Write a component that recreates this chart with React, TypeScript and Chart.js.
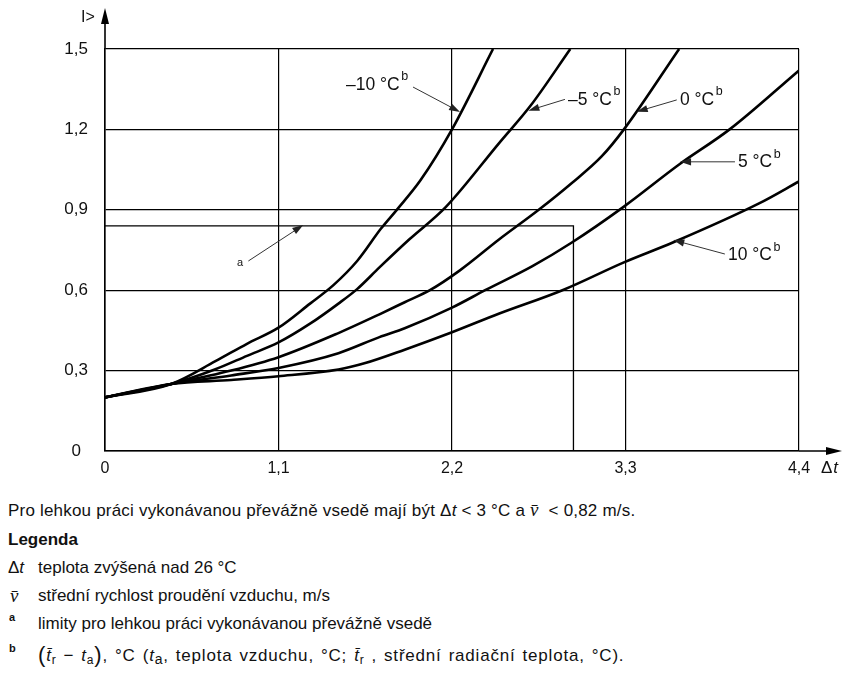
import React, { useEffect, useRef } from "react";
import { Chart, registerables } from "chart.js";

Chart.register(...registerables);

// ---- data ----
const xTickValues = [0, 1.1, 2.2, 3.3, 4.4];
const yTickValues = [0, 0.3, 0.6, 0.9, 1.2, 1.5];

const seriesLabels = ["–10 °C", "–5 °C", "0 °C", "5 °C", "10 °C"];

const dtM10 = [0, 0.42, 0.7, 0.9, 1.1, 1.3, 1.45, 1.6, 1.75, 1.85, 2.0, 2.2, 2.46];
const vM10 = [0.2, 0.25, 0.335, 0.4, 0.46, 0.55, 0.62, 0.71, 0.83, 0.9, 1.01, 1.2, 1.5];

const dtM5 = [0, 0.42, 0.7, 0.9, 1.1, 1.3, 1.48, 1.6, 1.74, 1.93, 2.16, 2.5, 2.7, 2.95];
const vM5 = [0.2, 0.25, 0.305, 0.355, 0.405, 0.475, 0.55, 0.605, 0.685, 0.79, 0.91, 1.15, 1.29, 1.5];

const dt0 = [0, 0.42, 0.8, 1.1, 1.48, 1.74, 1.9, 2.06, 2.25, 2.5, 2.75, 2.96, 3.15, 3.29, 3.64];
const v0 = [0.2, 0.25, 0.3, 0.35, 0.44, 0.51, 0.555, 0.6, 0.674, 0.79, 0.9, 1.0, 1.1, 1.2, 1.5];

const dt5 = [0, 0.42, 0.8, 1.1, 1.48, 1.74, 1.9, 2.2, 2.41, 2.71, 2.96, 3.29, 3.64, 3.96, 4.4];
const v5 = [0.2, 0.25, 0.282, 0.31, 0.365, 0.425, 0.458, 0.535, 0.6, 0.69, 0.778, 0.912, 1.069, 1.2, 1.42];

const dt10 = [0, 0.42, 0.8, 1.1, 1.48, 1.65, 1.9, 2.2, 2.5, 2.9, 3.29, 3.6, 4.15, 4.4];
const v10 = [0.2, 0.25, 0.265, 0.279, 0.304, 0.328, 0.378, 0.443, 0.513, 0.6, 0.704, 0.778, 0.925, 1.006];

// limit box "a"
const limitDt = [0, 2.97, 2.97];
const limitV = [0.84, 0.84, 0];

// curve label annotations (data coordinates): text pos, arrow start, arrow tip
const labelX = [1.528, 2.935, 3.645, 4.013, 3.95];
const labelY = [1.366, 1.31, 1.31, 1.076, 0.731];
const arrowFromX = [1.953, 2.916, 3.625, 3.994, 3.93];
const arrowFromY = [1.358, 1.312, 1.31, 1.079, 0.735];
const arrowToX = [2.251, 2.684, 3.371, 3.646, 3.603];
const arrowToY = [1.265, 1.27, 1.266, 1.079, 0.787];

const limitLabel = "a";
const limitLabelPos = [0.856, 0.7];
const limitArrowFrom = [0.909, 0.709];
const limitArrowTo = [1.257, 0.843];

const yAxisTitle = "I>";

const zip = (xs: number[], ys: number[]) => xs.map((x, i) => ({ x, y: ys[i] }));
const fmt = (v: number) => String(Math.round(v * 10) / 10).replace(".", ",");

const FONT = "'Liberation Sans', Arial, sans-serif";

function drawArrow(ctx: CanvasRenderingContext2D, x0: number, y0: number, x1: number, y1: number) {
  const ang = Math.atan2(y1 - y0, x1 - x0);
  const len = 11;
  const hw = 3.6;
  ctx.save();
  ctx.strokeStyle = "#333";
  ctx.fillStyle = "#222";
  ctx.lineWidth = 1;
  ctx.beginPath();
  ctx.moveTo(x0, y0);
  ctx.lineTo(x1 - Math.cos(ang) * len * 0.8, y1 - Math.sin(ang) * len * 0.8);
  ctx.stroke();
  ctx.beginPath();
  ctx.moveTo(x1, y1);
  ctx.lineTo(x1 - Math.cos(ang) * len + Math.sin(ang) * hw, y1 - Math.sin(ang) * len - Math.cos(ang) * hw);
  ctx.lineTo(x1 - Math.cos(ang) * len - Math.sin(ang) * hw, y1 - Math.sin(ang) * len + Math.cos(ang) * hw);
  ctx.closePath();
  ctx.fill();
  ctx.restore();
}

const annotPlugin = {
  id: "annot",
  afterDraw(chart: any) {
    const { ctx, chartArea } = chart;
    const xs = chart.scales.x;
    const ys = chart.scales.y;
    ctx.save();
    ctx.strokeStyle = "#000";
    ctx.fillStyle = "#000";
    ctx.lineWidth = 1.6;
    // y axis extension + arrow
    const lx = chartArea.left;
    ctx.beginPath();
    ctx.moveTo(lx, chartArea.top);
    ctx.lineTo(lx, 14);
    ctx.stroke();
    ctx.beginPath();
    ctx.moveTo(lx, 8);
    ctx.lineTo(lx - 4, 24);
    ctx.lineTo(lx + 4, 24);
    ctx.closePath();
    ctx.fill();
    // x axis extension + arrow
    const by = chartArea.bottom;
    ctx.beginPath();
    ctx.moveTo(chartArea.right, by);
    ctx.lineTo(832, by);
    ctx.stroke();
    ctx.beginPath();
    ctx.moveTo(842, by);
    ctx.lineTo(826, by - 4);
    ctx.lineTo(826, by + 4);
    ctx.closePath();
    ctx.fill();

    // axis titles
    ctx.fillStyle = "#111";
    ctx.font = `16px ${FONT}`;
    ctx.textBaseline = "middle";
    ctx.textAlign = "left";
    ctx.fillText(yAxisTitle, lx - 24, 18);
    const tx = chartArea.right + 22;
    const ty = by + 17;
    ctx.font = `17px ${FONT}`;
    ctx.fillText("Δ", tx, ty);
    const dw = ctx.measureText("Δ").width;
    ctx.font = `italic 17px ${FONT}`;
    ctx.fillText("t", tx + dw + 1, ty);

    // curve labels with superscript b and arrows
    for (let i = 0; i < seriesLabels.length; i++) {
      const px = xs.getPixelForValue(labelX[i]);
      const py = ys.getPixelForValue(labelY[i]);
      ctx.font = `17.5px ${FONT}`;
      ctx.fillStyle = "#111";
      ctx.fillText(seriesLabels[i], px, py);
      const w = ctx.measureText(seriesLabels[i]).width;
      ctx.font = `12.5px ${FONT}`;
      ctx.fillText("b", px + w + 1.5, py - 8);
      drawArrow(
        ctx,
        xs.getPixelForValue(arrowFromX[i]),
        ys.getPixelForValue(arrowFromY[i]),
        xs.getPixelForValue(arrowToX[i]),
        ys.getPixelForValue(arrowToY[i])
      );
    }
    ctx.font = `11px ${FONT}`;
    ctx.textAlign = "center";
    ctx.fillText(limitLabel, xs.getPixelForValue(limitLabelPos[0]), ys.getPixelForValue(limitLabelPos[1]));
    drawArrow(
      ctx,
      xs.getPixelForValue(limitArrowFrom[0]),
      ys.getPixelForValue(limitArrowFrom[1]),
      xs.getPixelForValue(limitArrowTo[0]),
      ys.getPixelForValue(limitArrowTo[1])
    );
    ctx.restore();
  },
};

const CANVAS_W = 844;
const CANVAS_H = 480;

function ChartView() {
  const ref = useRef<HTMLCanvasElement | null>(null);
  useEffect(() => {
    if (!ref.current) return;
    const curve = (data: { x: number; y: number }[]) => ({
      data,
      borderColor: "#000",
      borderWidth: 2.6,
      pointRadius: 0,
      fill: false,
      cubicInterpolationMode: "monotone" as const,
    });
    const chart = new Chart(ref.current, {
      type: "line",
      data: {
        datasets: [
          curve(zip(dtM10, vM10)),
          curve(zip(dtM5, vM5)),
          curve(zip(dt0, v0)),
          curve(zip(dt5, v5)),
          curve(zip(dt10, v10)),
          {
            data: zip(limitDt, limitV),
            borderColor: "#000",
            borderWidth: 1.3,
            pointRadius: 0,
            tension: 0,
            fill: false,
          } as any,
        ],
      },
      options: {
        animation: false,
        responsive: false,
        devicePixelRatio: 1,
        layout: { padding: { top: 49, right: CANVAS_W - 799, left: 0, bottom: 0 } },
        plugins: { legend: { display: false }, tooltip: { enabled: false } },
        scales: {
          x: {
            type: "linear",
            min: 0,
            max: 4.4,
            afterBuildTicks: (s: any) => {
              s.ticks = xTickValues.map((v) => ({ value: v }));
            },
            afterFit: (s: any) => {
              s.height = CANVAS_H - 451;
            },
            ticks: {
              callback: (v: any) => fmt(Number(v)),
              color: "#111",
              font: { family: FONT, size: 16 },
              padding: 8,
              maxRotation: 0,
              autoSkip: false,
            },
            grid: { color: "#000", lineWidth: 1.2, drawTicks: false },
            border: { display: true, color: "#000", width: 1.6 },
          },
          y: {
            type: "linear",
            min: 0,
            max: 1.5,
            afterBuildTicks: (s: any) => {
              s.ticks = yTickValues.map((v) => ({ value: v }));
            },
            afterFit: (s: any) => {
              s.width = 105;
            },
            ticks: {
              callback: (v: any) => fmt(Number(v)),
              color: "#111",
              font: { family: FONT, size: 17 },
              padding: 17,
              crossAlign: "center",
              autoSkip: false,
            },
            grid: { color: "#000", lineWidth: 1.2, drawTicks: false },
            border: { display: true, color: "#000", width: 1.6 },
          },
        },
      },
      plugins: [annotPlugin],
    });
    return () => chart.destroy();
  }, []);
  return <canvas ref={ref} width={CANVAS_W} height={CANVAS_H} style={{ display: "block", width: CANVAS_W, height: CANVAS_H }} />;
}

const lineStyle = (top: number, left: number): React.CSSProperties => ({
  position: "absolute",
  top,
  left,
  lineHeight: "20px",
  whiteSpace: "nowrap",
});

export default function App() {
  const ital: React.CSSProperties = { fontStyle: "italic" };
  const vbar = (
    <span style={{ fontStyle: "italic", fontFamily: "'Liberation Serif', serif", fontSize: 19 }}>v̄</span>
  );
  const sub: React.CSSProperties = { fontSize: 12, verticalAlign: "-3px" };
  const paren: React.CSSProperties = { fontSize: 22, verticalAlign: "-1px", fontWeight: 300 };
  return (
    <div
      style={{
        position: "absolute",
        left: 0,
        top: 0,
        width: 844,
        height: 673,
        background: "#fff",
        fontFamily: FONT,
        fontSize: 17,
        color: "#111",
      }}
    >
      <ChartView />
      <div style={{ ...lineStyle(500, 8), letterSpacing: 0.2 }}>
        Pro lehkou práci vykonávanou převážně vsedě mají být Δ<span style={ital}>t</span> &lt; 3 °C a {vbar}&nbsp; &lt; 0,82 m/s.
      </div>
      <div style={{ ...lineStyle(530, 8), fontWeight: "bold" }}>Legenda</div>
      <div style={lineStyle(558, 8)}>
        Δ<span style={ital}>t</span>
      </div>
      <div style={lineStyle(558, 38)}>teplota zvýšená nad 26 °C</div>
      <div style={lineStyle(586, 10)}>{vbar}</div>
      <div style={lineStyle(586, 38)}>střední rychlost proudění vzduchu, m/s</div>
      <div style={{ ...lineStyle(607, 9), fontSize: 11, fontWeight: "bold" }}>a</div>
      <div style={lineStyle(614, 38)}>limity pro lehkou práci vykonávanou převážně vsedě</div>
      <div style={{ ...lineStyle(638, 9), fontSize: 11, fontWeight: "bold" }}>b</div>
      <div style={{ ...lineStyle(645, 38), letterSpacing: 0.8, wordSpacing: 1.5 }}>
        <span style={paren}>(</span>
        <span style={ital}>t̄</span>
        <span style={sub}>r</span> − <span style={ital}>t</span>
        <span style={sub}>a</span>
        <span style={paren}>)</span>, °C (<span style={ital}>t</span>
        <span style={{ ...sub, fontSize: 14 }}>a</span>, teplota vzduchu, °C; <span style={ital}>t̄</span>
        <span style={sub}>r</span> , střední radiační teplota, °C).
      </div>
    </div>
  );
}
